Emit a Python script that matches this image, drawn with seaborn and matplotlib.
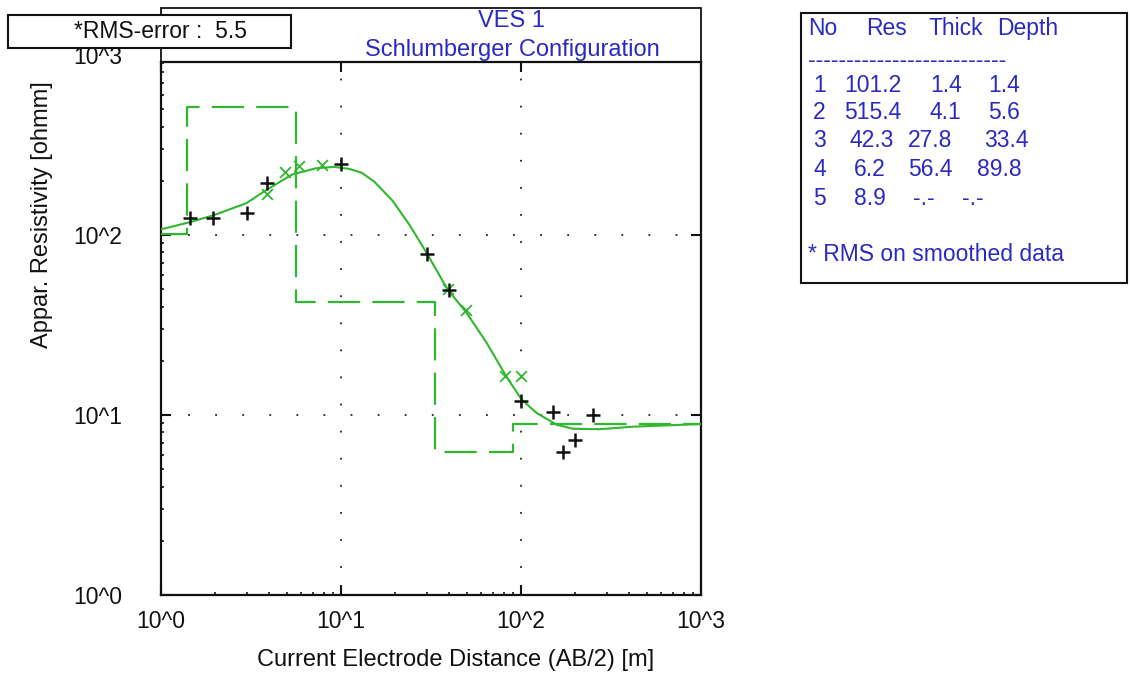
import matplotlib
matplotlib.use("Agg")
import matplotlib.pyplot as plt
import matplotlib.ticker as mticker
from matplotlib.patches import Rectangle
import seaborn as sns

# Observed apparent resistivity (AB/2 in m, rho_a in ohm.m)
obs_ab2 = [1.45, 1.95, 3.0, 3.9, 10.0, 30.0, 40.0, 100.0, 150.0, 250.0, 200.0, 172.0]
obs_rho = [124.0, 124.0, 132.0, 194.0, 247.0, 78.0, 49.2, 12.0, 10.4, 10.0, 7.3, 6.25]

# Smoothed data points
smooth_ab2 = [3.9, 4.9, 5.85, 7.8, 39.5, 49.5, 81.0, 99.5]
smooth_rho = [170.0, 225.0, 241.0, 244.0, 49.8, 38.5, 16.5, 16.5]

# Calculated response of the layered model
model_ab2 = [1.0, 1.43, 1.95, 2.97, 3.89, 5.36, 7.29, 9.18, 11.1, 13.0, 15.3,
             19.35, 24.0, 29.8, 39.1, 49.8, 64.4, 83.1, 100.7, 122.0, 158.0,
             194.0, 274.0, 418.0, 1000.0]
model_rho = [107.5, 117.5, 128.5, 150.0, 179.0, 217.0, 235.0, 239.0, 233.0, 222.0,
             198.0, 155.0, 114.0, 80.0, 49.8, 37.0, 25.2, 16.3, 12.2, 10.27, 8.83,
             8.39, 8.34, 8.61, 8.91]

# Layered earth model
layer_no = [1, 2, 3, 4, 5]
layer_res = [101.2, 515.4, 42.3, 6.2, 8.9]
layer_thick = [1.4, 4.1, 27.8, 56.4, None]
layer_depth = [1.4, 5.6, 33.4, 89.8, None]

rms_error = 5.5
x_ticks = [1, 10, 100, 1000]
x_tick_labels = ["10^0", "10^1", "10^2", "10^3"]
y_ticks = [1, 10, 100]
y_tick_labels = ["10^0", "10^1", "10^2"]

W, H = 1131, 676
GREEN = "#2fb82f"
BLUE = "#2a2ac0"
FS = 16.5
FS_BIG = 17

sns.set_theme(style="white")
plt.rcParams["font.family"] = ["Liberation Sans", "DejaVu Sans"]


def fx(px):
    return px / W


def fy(py):
    return 1 - py / H


fig = plt.figure(figsize=(W / 100, H / 100), dpi=100)
fig.patch.set_facecolor("white")
ax = fig.add_axes([fx(161), fy(595), (701 - 161) / W, (595 - 62) / H])
ax.set_xscale("log")
ax.set_yscale("log")
ax.set_xlim(1, 1000)
ax.set_ylim(1, 10 ** ((595 - 62) / 180.0))

# layered model as a step curve
step_x = [1.0] + [d for d in layer_depth if d is not None] + [1000.0]
step_y = layer_res + [layer_res[-1]]
sns.lineplot(x=step_x, y=step_y, ax=ax, color=GREEN, linewidth=1.6,
             drawstyle="steps-post", linestyle=(0, (14.5, 5.5)), sort=False,
             estimator=None, zorder=3)

# model response
sns.lineplot(x=model_ab2, y=model_rho, ax=ax, color=GREEN, linewidth=1.5,
             sort=False, estimator=None, zorder=4)

# smoothed and observed data
sns.scatterplot(x=smooth_ab2, y=smooth_rho, ax=ax, marker="x", s=60,
                color=GREEN, linewidth=1.3, zorder=5)
sns.scatterplot(x=obs_ab2, y=obs_rho, ax=ax, marker="+", s=110,
                color="#111111", linewidth=1.8, zorder=6)

ax.xaxis.set_major_locator(mticker.FixedLocator(x_ticks))
ax.xaxis.set_major_formatter(mticker.FixedFormatter(x_tick_labels))
ax.yaxis.set_major_locator(mticker.FixedLocator(y_ticks))
ax.yaxis.set_major_formatter(mticker.FixedFormatter(y_tick_labels))
ax.xaxis.set_minor_locator(mticker.LogLocator(base=10, subs=range(2, 10)))
ax.yaxis.set_minor_locator(mticker.LogLocator(base=10, subs=range(2, 10)))
ax.xaxis.set_minor_formatter(mticker.NullFormatter())
ax.yaxis.set_minor_formatter(mticker.NullFormatter())

ax.tick_params(which="major", direction="in", length=7, width=1.5,
               top=True, right=True, bottom=True, left=True,
               labelsize=FS, colors="#111111")
ax.tick_params(axis="x", which="major", pad=11)
ax.tick_params(axis="y", which="major", pad=28)
ax.tick_params(which="minor", direction="in", length=2.5, width=1.2,
               top=False, right=False, bottom=True, left=True, colors="#111111")

ax.grid(which="major", color="#222222", linestyle=(0, (1, 14)), linewidth=1.3)
for sp in ax.spines.values():
    sp.set_linewidth(1.6)
    sp.set_color("#111111")

# label for the upper decade, which sits just above the frame
ax.text(-39 / 540, 1000, "10^3", transform=ax.get_yaxis_transform(),
        ha="right", va="center_baseline", fontsize=FS, color="#111111", clip_on=False)

ax.set_xlabel("Current Electrode Distance (AB/2) [m]", fontsize=FS_BIG, color="#111111")
ax.set_ylabel("Appar. Resistivity [ohmm]", fontsize=FS_BIG, color="#111111")
ax.xaxis.set_label_coords((456 - 161) / 540, (595 - 660) / 533)
ax.yaxis.set_label_coords((42 - 161) / 540, (595 - 215) / 533)
ax.xaxis.label.set_va("center")
ax.yaxis.label.set_va("center")

# title frame
fig.add_artist(Rectangle((fx(161), fy(62)), 540 / W, 54 / H, transform=fig.transFigure,
                         fill=False, edgecolor="#111111", linewidth=1.3, zorder=2))
fig.text(fx(511), fy(21), "VES 1", ha="center", va="center", fontsize=FS_BIG, color=BLUE)
fig.text(fx(512), fy(50), "Schlumberger Configuration", ha="center", va="center",
         fontsize=FS_BIG, color=BLUE)

# RMS box
fig.add_artist(Rectangle((fx(8), fy(48)), 283 / W, 33 / H, transform=fig.transFigure,
                         facecolor="white", edgecolor="#111111", linewidth=1.5, zorder=5))
fig.text(fx(161), fy(31), f"*RMS-error :  {rms_error}", ha="center", va="center",
         fontsize=FS, color="#111111", zorder=6)

# model table
fig.add_artist(Rectangle((fx(801), fy(283)), 326 / W, 270 / H, transform=fig.transFigure,
                         fill=False, edgecolor="#111111", linewidth=1.5, zorder=2))
for s, px in zip(["No", "Res", "Thick", "Depth"], [807.7, 866, 928.3, 997.3]):
    fig.text(fx(px), fy(28.5), s, ha="left", va="center", fontsize=FS, color=BLUE)
fig.text(fx(807.7), fy(60), "-" * 26, ha="left", va="center", fontsize=FS, color=BLUE)

row_y = [85, 112.7, 140.7, 169.3, 198.3]
res_x = [844.3, 844.3, 849.3, 854, 854]
thick_x = [930, 930, 908, 908, 913]
depth_x = [988, 988, 984, 976.7, 961.7]
for i, n in enumerate(layer_no):
    y = fy(row_y[i])
    th = "-.-" if layer_thick[i] is None else f"{layer_thick[i]:.1f}"
    de = "-.-" if layer_depth[i] is None else f"{layer_depth[i]:.1f}"
    fig.text(fx(813.3), y, str(n), ha="left", va="center", fontsize=FS, color=BLUE)
    fig.text(fx(res_x[i]), y, f"{layer_res[i]:.1f}", ha="left", va="center",
             fontsize=FS, color=BLUE)
    fig.text(fx(thick_x[i]), y, th, ha="left", va="center", fontsize=FS, color=BLUE)
    fig.text(fx(depth_x[i]), y, de, ha="left", va="center", fontsize=FS, color=BLUE)
fig.text(fx(807.7), fy(254.3), "* RMS on smoothed data", ha="left", va="center",
         fontsize=FS, color=BLUE)

fig.savefig("out.png", dpi=100, facecolor="white")
